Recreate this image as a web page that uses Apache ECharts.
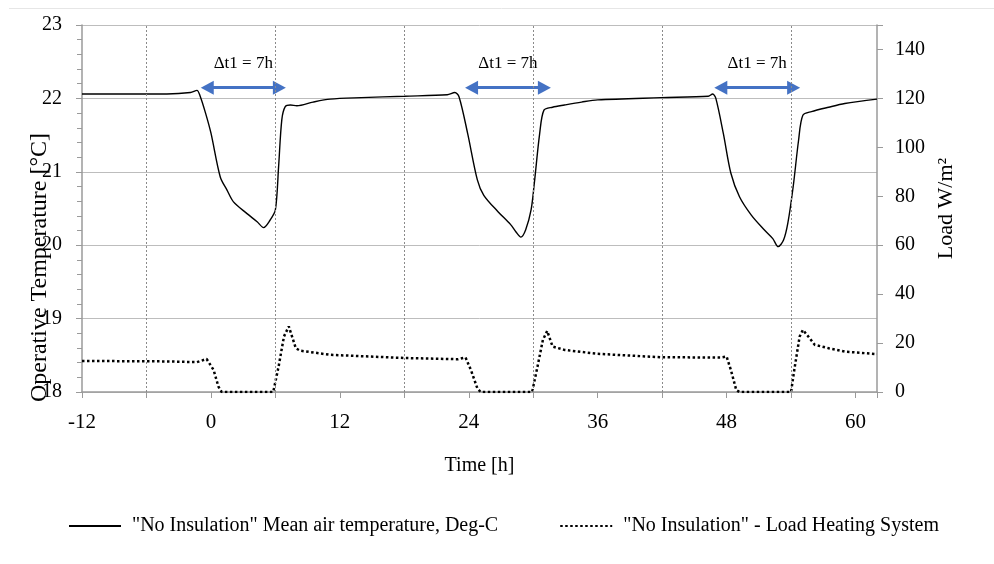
<!DOCTYPE html>
<html>
<head>
<meta charset="utf-8">
<script src="https://cdn.jsdelivr.net/npm/echarts@6/dist/echarts.min.js"></script>
<style>html,body{margin:0;padding:0;background:#fff;}#c{width:994px;height:564px;}</style>
</head>
<body>
<div id="c"></div>
<script>
// ---- data ----
var tempHours = [-12,-8,-4.1,-1.9,-1.3,-1.0,-0.5,0.0,0.87,1.5,2.1,3.36,4.3,4.9,5.5,6.0,6.3,6.6,6.93,7.4,8.0,9.5,11.1,14,18,22.0,22.7,23.1,23.9,24.8,25.4,26.7,27.9,28.4,28.85,29.3,29.8,30.1,30.6,31.0,31.8,32.9,34.5,36.0,41.9,46.3,46.7,47.0,47.7,48.4,49.2,50.3,51.5,52.3,52.8,53.3,53.7,54.2,54.7,55.1,55.9,57.5,59.0,62.0];
var tempValues = [22.06,22.06,22.06,22.08,22.11,22.03,21.80,21.53,20.93,20.75,20.59,20.43,20.32,20.24,20.34,20.48,21.07,21.71,21.89,21.91,21.90,21.95,21.99,22.01,22.03,22.05,22.08,22.02,21.52,20.89,20.68,20.46,20.28,20.18,20.11,20.21,20.48,20.84,21.52,21.84,21.88,21.91,21.95,21.98,22.01,22.03,22.06,22.00,21.52,20.98,20.66,20.41,20.21,20.09,19.98,20.07,20.30,20.80,21.43,21.77,21.82,21.88,21.93,21.99];
var loadHours = [-12,-4,-1.3,-0.4,0.25,0.7,1.0,5.8,6.3,6.8,7.25,7.9,8.3,11.1,18,23.0,23.7,24.2,24.8,25.1,29.9,30.4,30.9,31.3,31.8,32.9,36,41.9,47.5,48.0,48.4,48.9,49.2,54.0,54.3,54.8,55.1,55.6,56.2,57.5,59.0,62.0];
var loadValues = [12.7,12.5,12.2,13.5,9,2.2,0,0,10.4,22.7,26.8,17.9,16.9,15.2,13.9,13.4,14.1,9,1.5,0,0,10.4,21.3,25,18.6,17.2,15.6,14.2,14.1,14.5,9,0.8,0,0,9,22.7,25.4,22.7,19.3,17.9,16.5,15.5];
var dividerHours = [-6,6,18,30,42,54];
var arrowStart = [-0.34,24.26,47.46];
var arrowEnd = [6.37,31.04,54.24];
var arrowLevel = 22.146;
var arrowText = 'Δt1 = 7h';
var xTickLabels = [-12,0,12,24,36,48,60];
var seriesNames = ['"No Insulation" Mean air temperature, Deg-C', '"No Insulation" - Load Heating System'];

var FONT = 'Liberation Serif';
function pairs(a,b){return a.map(function(x,i){return [x,b[i]];});}

var chart = echarts.init(document.getElementById('c'), null, {renderer:'canvas'});
chart.setOption({
  animation:false,
  backgroundColor:'#fff',
  textStyle:{fontFamily:FONT,color:'#000'},
  graphic:[{type:'line',shape:{x1:9,y1:8.5,x2:994,y2:8.5},style:{stroke:'#e6e6e6',lineWidth:1},silent:true}],
  grid:{left:82,right:117,top:25,bottom:172,containLabel:false},
  legend:{
    left:63, top:511, itemWidth:52, itemHeight:14, itemGap:61,
    itemStyle:{opacity:0},
    textStyle:{fontFamily:FONT,fontSize:20,color:'#000',padding:[0,0,0,6]},
    data:seriesNames
  },
  xAxis:{
    type:'value', min:-12, max:62, interval:6,
    name:'Time [h]', nameLocation:'middle', nameGap:64, nameMoveOverlap:false,
    nameTextStyle:{fontFamily:FONT,fontSize:20,color:'#000'},
    axisLine:{show:true,onZero:false,lineStyle:{color:'#9a9a9a',width:1.5}},
    axisTick:{show:true,length:6,lineStyle:{color:'#9a9a9a'}},
    axisLabel:{margin:20,fontFamily:FONT,fontSize:21,color:'#000',
      formatter:function(v){return xTickLabels.indexOf(v)>=0?String(v):'';}},
    splitLine:{show:false}
  },
  yAxis:[{
    type:'value', min:18, max:23, interval:1, position:'left',
    name:'Operative Temperature [°C]', nameLocation:'middle', nameGap:30, nameRotate:90, nameMoveOverlap:false,
    nameTextStyle:{fontFamily:FONT,fontSize:24,color:'#000',padding:[0,118,0,0]},
    axisLine:{show:true,onZero:false,lineStyle:{color:'#9a9a9a',width:1.5}},
    axisTick:{show:true,length:6,lineStyle:{color:'#9a9a9a'}},
    minorTick:{show:true,splitNumber:5,length:5,lineStyle:{color:'#9a9a9a'}},
    axisLabel:{margin:20,fontFamily:FONT,fontSize:20,color:'#000'},
    splitLine:{show:true,lineStyle:{color:'#bdbdbd',width:1}}
  },{
    type:'value', min:0, max:150, interval:20, position:'right',
    name:'Load W/m²', nameLocation:'middle', nameGap:58, nameRotate:90, nameMoveOverlap:false,
    nameTextStyle:{fontFamily:FONT,fontSize:22,color:'#000'},
    axisLine:{show:true,onZero:false,lineStyle:{color:'#9a9a9a',width:1.5}},
    axisTick:{show:true,length:6,lineStyle:{color:'#9a9a9a'}},
    axisLabel:{margin:18,fontFamily:FONT,fontSize:20,color:'#000',
      formatter:function(v){return v<=140?String(v):'';}},
    splitLine:{show:false}
  }],
  series:[{
    name:seriesNames[0], type:'line', yAxisIndex:0, data:pairs(tempHours,tempValues),
    showSymbol:false, symbol:'none', smooth:0.3,
    lineStyle:{color:'#000',width:1.4}, itemStyle:{color:'#000'},
    markLine:{
      silent:true, symbol:['triangle','triangle'], symbolSize:[14,13],
      lineStyle:{color:'#4472C4',width:3,type:'solid'},
      label:{show:true,position:'middle',formatter:arrowText,distance:16,
        fontFamily:FONT,fontSize:17,color:'#000'},
      data:arrowStart.map(function(s,i){return [{coord:[s,arrowLevel]},{coord:[arrowEnd[i],arrowLevel]}];})
    }
  },{
    name:seriesNames[1], type:'line', yAxisIndex:1, data:pairs(loadHours,loadValues),
    showSymbol:false, symbol:'none',
    lineStyle:{color:'#000',width:2.5,type:[2.5,2.5]}, itemStyle:{color:'#000'},
    markLine:{
      silent:true, symbol:['none','none'],
      lineStyle:{color:'#8a8a8a',width:1,type:[2,2]},
      label:{show:false},
      data:dividerHours.map(function(h){return {xAxis:h};})
    }
  }]
});
</script>
</body>
</html>
